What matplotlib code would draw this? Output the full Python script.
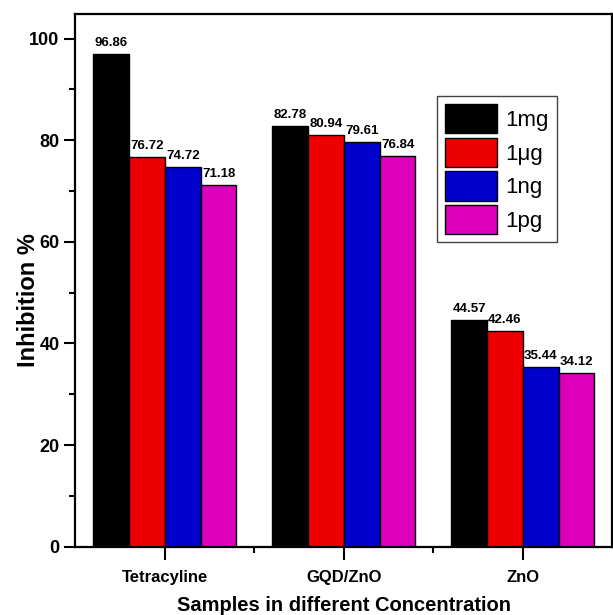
import matplotlib
matplotlib.use("Agg")
import matplotlib.pyplot as plt
import numpy as np
from matplotlib.ticker import MultipleLocator, FixedLocator

categories = ["Tetracyline", "GQD/ZnO", "ZnO"]
series_names = ["1mg", "1\u03bcg", "1ng", "1pg"]
val_1mg = [96.86, 82.78, 44.57]
val_1ug = [76.72, 80.94, 42.46]
val_1ng = [74.72, 79.61, 35.44]
val_1pg = [71.18, 76.84, 34.12]
series_values = [val_1mg, val_1ug, val_1ng, val_1pg]
colors = ["#000000", "#EE0000", "#0000CC", "#DD00BB"]

fam = ["Liberation Sans", "DejaVu Sans"]

fig = plt.figure(figsize=(6.13, 6.15), dpi=100)
ax = fig.add_axes([0.123, 0.111, 0.876, 0.866])

x = np.arange(len(categories))
w = 0.2
for i, (name, vals, c) in enumerate(zip(series_names, series_values, colors)):
    pos = x + (i - 1.5) * w
    ax.bar(pos, vals, width=w, color=c, edgecolor="black", linewidth=1.0, label=name)
    for p, v in zip(pos, vals):
        ax.text(p, v + 1.0, f"{v:.2f}", ha="center", va="bottom",
                fontsize=9.5, fontweight="bold", family=fam)

ax.set_xlim(-0.5, 2.5)
ax.set_ylim(0, 104.8)
ax.set_xticks(x)
ax.set_xticklabels(categories, fontsize=12, fontweight="bold", family=fam)
ax.xaxis.set_minor_locator(FixedLocator([0.5, 1.5]))
ax.yaxis.set_major_locator(MultipleLocator(20))
ax.yaxis.set_minor_locator(MultipleLocator(10))
for lab in ax.get_yticklabels():
    lab.set_fontsize(13)
    lab.set_fontweight("bold")
    lab.set_family(fam)

ax.tick_params(axis="both", which="major", direction="out", length=8, width=1.5)
ax.tick_params(axis="both", which="minor", direction="out", length=4, width=1.5)
ax.tick_params(axis="x", which="major", length=9, pad=8)
for s in ax.spines.values():
    s.set_linewidth(1.6)

ax.set_ylabel("Inhibition %", fontsize=17, fontweight="bold", family=fam)
ax.yaxis.set_label_coords(-0.066, 0.463)
ax.set_xlabel("Samples in different Concentration", fontsize=14.5, fontweight="bold", family=fam)
ax.xaxis.set_label_coords(0.5, -0.092)

leg = ax.legend(loc="upper left", bbox_to_anchor=(0.673, 0.846),
                prop={"family": fam, "size": 16},
                handlelength=2.35, handleheight=1.65, handletextpad=0.4,
                labelspacing=0.2, borderpad=0.35, borderaxespad=0, fancybox=False,
                edgecolor="#444444", framealpha=1)
leg.get_frame().set_linewidth(1.0)

fig.savefig("out.png", dpi=100)
